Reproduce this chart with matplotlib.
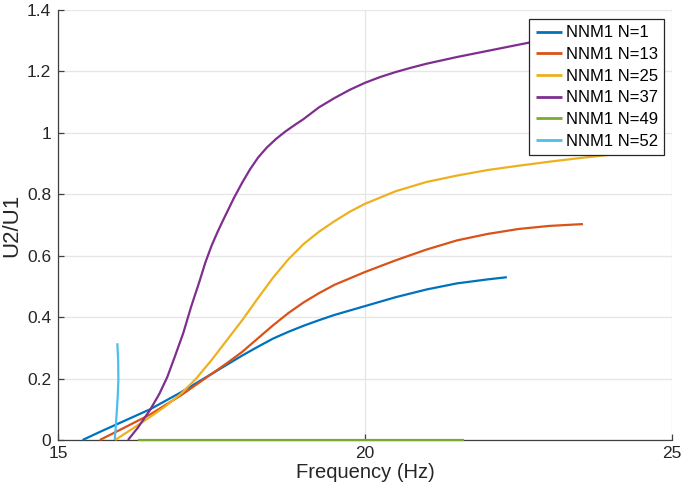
import matplotlib
matplotlib.use('Agg')
from matplotlib import pyplot as plt

plt.rcParams['font.family'] = ['Liberation Sans', 'DejaVu Sans']

# NNM1 N=1
f_n1 = [15.40, 15.7, 16.0, 16.5, 17.0, 17.5, 18.0, 18.25, 18.5, 18.75, 19.0, 19.25, 19.5, 20.0, 20.5,
        21.0, 21.5, 22.0, 22.31]
u_n1 = [0.0, 0.028, 0.055, 0.10, 0.155, 0.215, 0.275, 0.303, 0.33, 0.352, 0.372, 0.39, 0.407, 0.436, 0.465,
        0.49, 0.51, 0.523, 0.53]

# NNM1 N=13
f_n13 = [15.68, 16.0, 16.5, 17.0, 17.5, 17.75, 18.0, 18.25, 18.5, 18.75, 19.0, 19.25, 19.5, 20.0, 20.5,
         21.0, 21.5, 22.0, 22.5, 23.0, 23.55]
u_n13 = [0.0, 0.032, 0.083, 0.145, 0.215, 0.25, 0.287, 0.33, 0.373, 0.413, 0.448, 0.478, 0.505, 0.547, 0.585,
         0.62, 0.65, 0.671, 0.687, 0.697, 0.703]

# NNM1 N=25
f_n25 = [15.93, 16.2, 16.5, 16.75, 17.0, 17.25, 17.5, 17.75, 18.0, 18.25, 18.5, 18.75, 19.0, 19.25, 19.5,
         19.75, 20.0, 20.5, 21.0, 21.5, 22.0, 22.5, 23.0, 23.5, 24.0, 24.4]
u_n25 = [0.0, 0.035, 0.075, 0.11, 0.15, 0.2, 0.26, 0.325, 0.39, 0.46, 0.528, 0.588, 0.638, 0.678, 0.712,
         0.743, 0.769, 0.81, 0.84, 0.861, 0.879, 0.893, 0.906, 0.918, 0.929, 0.936]

# NNM1 N=37
f_n37 = [16.14, 16.3, 16.5, 16.65, 16.78, 16.9, 17.04, 17.17, 17.31, 17.4, 17.5, 17.6, 17.69, 17.78, 17.86,
         18.0, 18.13, 18.26, 18.4, 18.55, 18.7, 18.85, 19.0, 19.25, 19.5, 19.75, 20.0, 20.25, 20.5, 20.75,
         21.0, 21.5, 22.0, 22.5, 22.73, 23.0, 23.5, 24.0, 24.5]
u_n37 = [0.0, 0.04, 0.098, 0.15, 0.205, 0.27, 0.348, 0.435, 0.52, 0.578, 0.632, 0.678, 0.716, 0.753, 0.786,
         0.838, 0.882, 0.92, 0.952, 0.98, 1.004, 1.025, 1.045, 1.083, 1.113, 1.14, 1.163, 1.182, 1.198, 1.212,
         1.225, 1.247, 1.267, 1.287, 1.296, 1.305, 1.32, 1.333, 1.345]

# NNM1 N=49
f_n49 = [16.3, 21.61]
u_n49 = [0.0, 0.0]

# NNM1 N=52
f_n52 = [15.923, 15.94, 15.956, 15.975, 15.983, 15.98, 15.966]
u_n52 = [0.0, 0.04, 0.088, 0.15, 0.196, 0.26, 0.315]

series = [
    (f_n1, u_n1, 'NNM1 N=1', '#0072BD'),
    (f_n13, u_n13, 'NNM1 N=13', '#D95319'),
    (f_n25, u_n25, 'NNM1 N=25', '#EDB120'),
    (f_n37, u_n37, 'NNM1 N=37', '#7E2F8E'),
    (f_n49, u_n49, 'NNM1 N=49', '#77AC30'),
    (f_n52, u_n52, 'NNM1 N=52', '#4DBEEE'),
]

fig = plt.figure(figsize=(6.85, 4.97), dpi=100)
ax = fig.add_axes([58 / 685, 1 - 440 / 497, 614 / 685, 430 / 497])

for f, u, label, color in series:
    ax.plot(f, u, color=color, lw=1.6, label=label, zorder=3, clip_on=False,
            solid_capstyle='butt', solid_joinstyle='round')

ax.set_xlim(15, 25)
ax.set_ylim(0, 1.4)
ax.set_xticks([15, 20, 25])
ax.set_xticklabels(['15', '20', '25'])
ax.set_yticks([0, 0.2, 0.4, 0.6, 0.8, 1.0, 1.2, 1.4])
ax.set_yticklabels(['0', '0.2', '0.4', '0.6', '0.8', '1', '1.2', '1.4'])
ax.grid(True, color='#e6e6e6', lw=1.0)
ax.set_axisbelow(True)
for s in ['top', 'right']:
    ax.spines[s].set_visible(False)
for s in ['left', 'bottom']:
    ax.spines[s].set_color('#404040')
    ax.spines[s].set_linewidth(0.9)
ax.tick_params(direction='in', length=4, width=0.9, color='#404040', labelsize=12.5, labelcolor='#262626')
ax.tick_params(axis='x', pad=4)
ax.tick_params(axis='y', pad=5)

ax.set_xlabel('Frequency (Hz)', fontsize=14.5, color='#262626', labelpad=2)
ax.set_ylabel('U2/U1', fontsize=16, color='#262626', labelpad=3)

leg = ax.legend(loc='upper right', bbox_to_anchor=(0.987, 0.979), borderaxespad=0, fontsize=12,
                handlelength=1.6, handletextpad=0.2, labelspacing=0.4, borderpad=0.38,
                fancybox=False, framealpha=1, edgecolor='#262626')
leg.get_frame().set_linewidth(0.9)
leg.set_zorder(5)
for line in leg.get_lines():
    line.set_linewidth(2)

fig.savefig('out.png', dpi=100)
